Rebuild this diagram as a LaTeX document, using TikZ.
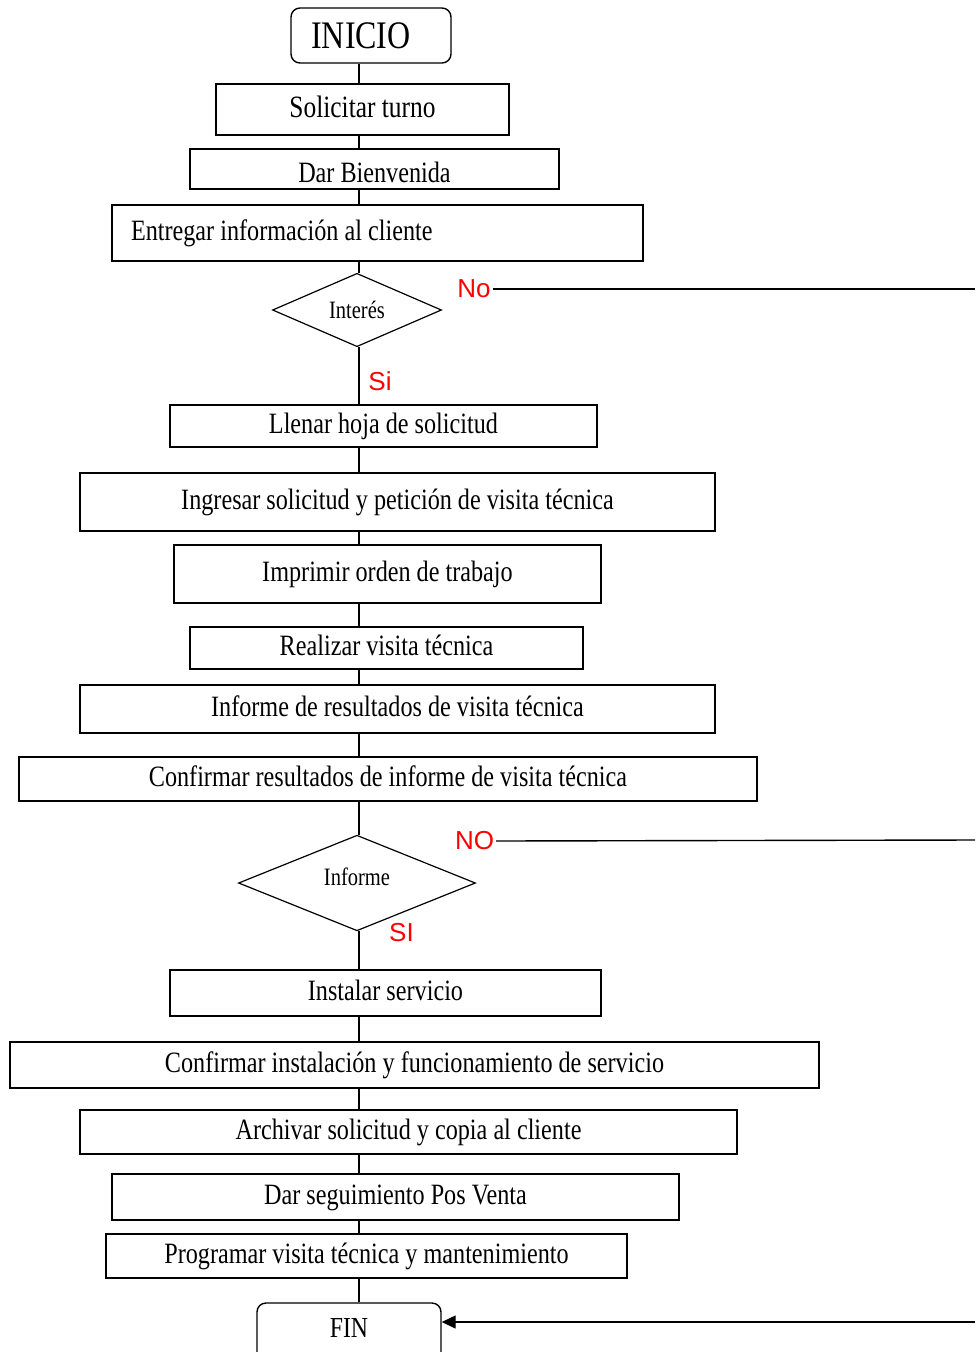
\documentclass[tikz,border=0pt]{standalone}
\usepackage{fontspec}
\setmainfont[FakeStretch=0.82]{Liberation Serif}
\newfontfamily\etiqfont{Liberation Sans}
\usetikzlibrary{shapes.geometric,arrows.meta}
\tikzset{
  caja/.style={draw,line width=1.4pt,inner sep=0pt,text height=21pt,text depth=6pt,font=\fontsize{29.5}{31}\selectfont},
  terminal/.style={draw,line width=1.4pt,rounded corners=9pt,inner sep=0pt},
  decision/.style={draw,diamond,line width=1.2pt,inner sep=0pt,font=\fontsize{25}{27}\selectfont},
  etiq/.style={text=red,inner sep=2pt,font=\etiqfont\fontsize{26}{28}\selectfont},
  linea/.style={line width=1.4pt}
}
\begin{document}
\begin{tikzpicture}[x=1pt,y=-1pt]
\clip (0,0) rectangle (975,1352);
\useasboundingbox (0,0) rectangle (975,1352);
\coordinate (eje) at (359,0);
%inicio
\node[terminal,minimum width=160pt,minimum height=55pt,font=\fontsize{39}{41}\selectfont] (inicio) at (371,35.5) {INICIO\kern20pt};
\node[caja,minimum width=293pt,minimum height=51pt,font=\fontsize{31}{33}\selectfont] (solicitar) at (362.5,109.5) {Solicitar turno};
\node[caja,minimum width=369pt,minimum height=40pt] (bienvenida) at (374.5,169) {\raisebox{-6pt}{Dar Bienvenida}};
\node[caja,minimum width=531pt,minimum height=56pt] (entregar) at (377.5,233) {\makebox[493pt][l]{Entregar información al cliente}};
%decision 1
\node[decision,minimum width=169pt,minimum height=70pt] (interes) at (357,310) {Interés};
\node[etiq] (no1) at (474,289) {No};
\coordinate (der1) at (975,289);
\node[etiq] (si1) at (380,381) {Si};
\node[caja,minimum width=427pt,minimum height=42pt] (llenar) at (383.5,426) {Llenar hoja de solicitud};
\node[caja,minimum width=635pt,minimum height=58pt] (ingresar) at (397.5,502) {Ingresar solicitud y petición de visita técnica};
\node[caja,minimum width=427pt,minimum height=58pt] (imprimir) at (387.5,574) {Imprimir orden de trabajo};
\node[caja,minimum width=393pt,minimum height=42pt] (realizar) at (386.5,648) {Realizar visita técnica};
\node[caja,minimum width=635pt,minimum height=48pt] (resultados) at (397.5,709) {Informe de resultados de visita técnica};
\node[caja,minimum width=738pt,minimum height=44pt] (confirmares) at (388,779) {Confirmar resultados de informe de visita técnica};
%decision 2
\node[decision,minimum width=237pt,minimum height=94pt,text depth=12pt] (informe) at (357,883) {Informe};
\node[etiq] (no2) at (474.5,841) {NO};
\coordinate (der2) at (975,840);
\node[etiq] (si2) at (401.5,933) {SI};
\node[caja,minimum width=431pt,minimum height=46pt] (instalar) at (385.5,993) {Instalar servicio};
\node[caja,minimum width=809pt,minimum height=46pt] (confirmainst) at (414.5,1065) {Confirmar instalación y funcionamiento de servicio};
\node[caja,minimum width=657pt,minimum height=44pt] (archivar) at (408.5,1132) {Archivar solicitud y copia al cliente};
\node[caja,minimum width=567pt,minimum height=46pt] (seguimiento) at (395.5,1197) {Dar seguimiento Pos Venta};
\node[caja,minimum width=521pt,minimum height=44pt] (programar) at (366.5,1256) {Programar visita técnica y mantenimiento};
%fin
\node[terminal,minimum width=184pt,minimum height=70pt,text depth=20pt,font=\fontsize{29}{31}\selectfont] (fin) at (349,1338) {FIN};
\coordinate (derfin) at (975,1322);
%lineas
\foreach \a/\b in {inicio/solicitar,solicitar/bienvenida,bienvenida/entregar,entregar/interes,
  interes/llenar,llenar/ingresar,ingresar/imprimir,imprimir/realizar,realizar/resultados,
  resultados/confirmares,confirmares/informe,informe/instalar,instalar/confirmainst,
  confirmainst/archivar,archivar/seguimiento,seguimiento/programar,programar/fin}
  \draw[linea] (\a.south -| eje) -- (\b.north -| eje);
\draw[linea] (no1.east) -- (der1);
\draw[linea] (no2.east) -- (der2);
\draw[linea,-{Triangle[length=14pt,width=13pt]}] (derfin) -- (fin.east |- derfin);
\end{tikzpicture}
\end{document}
